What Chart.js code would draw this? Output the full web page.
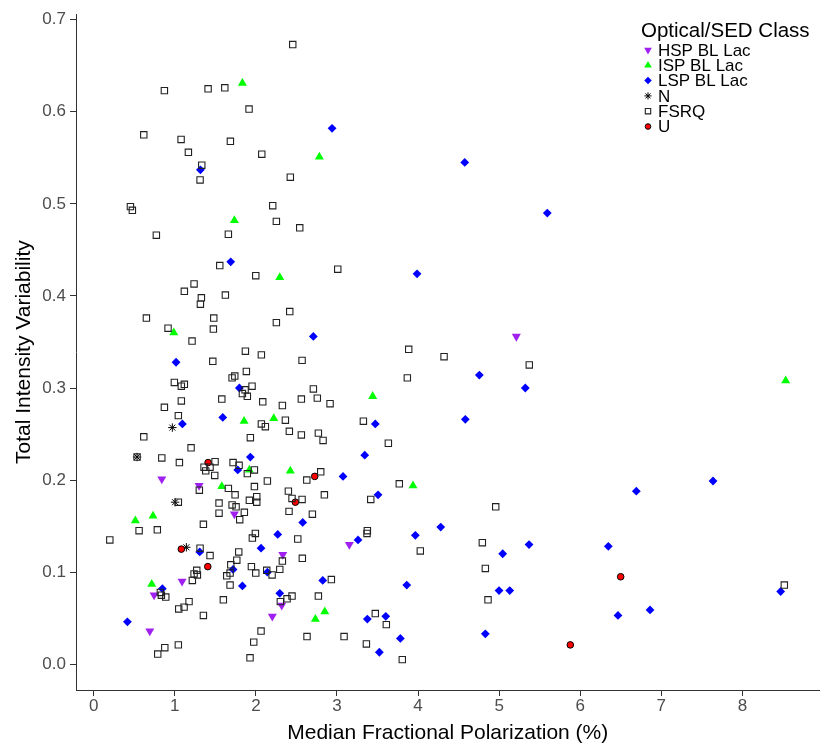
<!DOCTYPE html>
<html>
<head>
<meta charset="utf-8">
<script src="https://cdn.jsdelivr.net/npm/chart.js@4"></script>
<style>
  html, body { margin: 0; padding: 0; background: #fff; }
  #wrap { width: 830px; height: 755px; }
</style>
</head>
<body>
<div id="wrap"><canvas id="myChart" width="830" height="755"></canvas></div>
<script>
// values
const hspX = [0.840, 1.300, 1.735, 5.212, 1.090, 0.745, 0.692, 3.153, 2.332, 2.203, 2.319];
const hspY = [0.201, 0.194, 0.163, 0.356, 0.090, 0.075, 0.036, 0.130, 0.119, 0.052, 0.064];

const ispX = [1.834, 2.783, 1.735, 2.295, 0.988, 1.855, 1.920, 1.580, 0.514, 0.732, 3.441, 2.221, 2.425, 3.938, 0.716, 2.850, 2.734, 8.534];
const ispY = [0.631, 0.551, 0.482, 0.420, 0.360, 0.264, 0.211, 0.193, 0.156, 0.161, 0.291, 0.267, 0.210, 0.194, 0.087, 0.057, 0.049, 0.308];

const lspX = [1.316, 2.940, 1.690, 3.988, 2.709, 1.016, 1.797, 1.592, 1.094, 1.932,
              1.777, 3.473, 3.343, 3.075, 3.507, 2.578, 1.308, 1.719, 1.834, 0.847,
              0.416, 2.270, 2.064, 3.260, 3.967, 2.142, 2.825, 3.861, 2.295, 3.375,
              3.602, 3.782, 3.523, 4.576, 5.594, 4.756, 5.323, 4.583, 7.638, 6.692,
              4.280, 5.369, 5.044, 6.347, 8.472, 4.999, 5.131, 6.466, 6.861, 4.830];
const lspY = [0.537, 0.582, 0.437, 0.424, 0.356, 0.328, 0.300, 0.268, 0.261, 0.225,
              0.211, 0.261, 0.227, 0.204, 0.184, 0.154, 0.122, 0.103, 0.085, 0.082,
              0.046, 0.141, 0.126, 0.135, 0.140, 0.100, 0.091, 0.086, 0.077, 0.049,
              0.052, 0.028, 0.013, 0.545, 0.490, 0.314, 0.300, 0.266, 0.199, 0.188,
              0.149, 0.130, 0.120, 0.128, 0.079, 0.080, 0.080, 0.053, 0.059, 0.033];

const nX = [0.970, 0.535, 1.004, 1.143];
const nY = [0.257, 0.225, 0.176, 0.127];

const fsrqX = [0.872, 1.411, 1.617, 1.916, 0.618, 1.078, 1.686, 1.168, 1.333, 1.312,
               2.455, 2.073, 2.425, 0.453, 0.477, 0.773, 1.661, 1.555, 1.999, 1.238,
               1.118, 1.328, 1.624, 1.316, 0.650, 1.481, 0.917, 1.476, 1.213, 1.871,
               2.208, 2.253, 2.541, 3.010, 2.418, 2.253, 3.885, 2.068, 1.469, 1.883,
               1.707, 1.740, 0.995, 1.081, 1.118, 1.867, 1.953, 1.834, 1.895, 1.081,
               1.580, 0.872, 1.044, 0.618, 1.932, 1.201, 0.535, 0.840, 1.057, 1.497,
               1.719, 1.793, 1.361, 1.435, 1.382, 1.982, 1.895, 1.493, 1.303, 1.661,
               1.982, 1.744, 2.011, 1.920, 2.011, 1.044, 1.546, 1.707, 1.756, 1.546,
               1.858, 1.801, 1.353, 0.560, 0.785, 2.570, 3.868, 2.709, 2.085, 2.561,
               2.758, 2.915, 2.327, 2.364, 3.326, 2.068, 2.117, 2.413, 2.561, 2.771,
               2.829, 3.634, 2.800, 2.628, 2.142, 3.769, 2.401, 2.845, 3.417, 2.446,
               2.570, 2.409, 2.697, 3.375, 0.199, 1.312, 1.435, 1.789, 1.765, 1.957,
               1.994, 1.691, 1.271, 1.238, 1.279, 1.682, 1.641, 1.945, 1.999, 1.217,
               1.682, 0.822, 0.835, 0.889, 1.599, 1.176, 1.115, 1.049, 1.353, 1.044,
               0.877, 0.790, 1.974, 1.928, 2.064, 2.517, 3.371, 4.028, 2.327, 2.573,
               2.134, 2.200, 2.295, 2.931, 2.302, 2.385, 2.446, 2.771, 3.473, 3.609,
               2.631, 3.088, 3.363, 3.806, 4.321, 5.372, 4.958, 4.793, 4.830, 4.863,
               8.517];
const fsrqY = [0.623, 0.625, 0.626, 0.603, 0.575, 0.570, 0.568, 0.556, 0.542, 0.526,
               0.673, 0.554, 0.529, 0.497, 0.493, 0.466, 0.467, 0.433, 0.422, 0.413,
               0.405, 0.398, 0.401, 0.391, 0.376, 0.376, 0.365, 0.364, 0.351, 0.340,
               0.498, 0.481, 0.474, 0.429, 0.383, 0.371, 0.342, 0.336, 0.329, 0.318,
               0.311, 0.313, 0.306, 0.302, 0.304, 0.298, 0.302, 0.294, 0.291, 0.286,
               0.288, 0.279, 0.270, 0.247, 0.246, 0.235, 0.225, 0.224, 0.219, 0.220,
               0.219, 0.216, 0.214, 0.214, 0.210, 0.211, 0.207, 0.205, 0.189, 0.191,
               0.193, 0.184, 0.182, 0.178, 0.176, 0.176, 0.175, 0.173, 0.171, 0.164,
               0.165, 0.157, 0.152, 0.145, 0.146, 0.330, 0.311, 0.299, 0.285, 0.288,
               0.289, 0.283, 0.281, 0.265, 0.264, 0.261, 0.258, 0.253, 0.249, 0.251,
               0.243, 0.240, 0.209, 0.200, 0.199, 0.196, 0.188, 0.184, 0.179, 0.180,
               0.179, 0.166, 0.163, 0.145, 0.135, 0.126, 0.118, 0.122, 0.113, 0.137,
               0.142, 0.108, 0.102, 0.098, 0.097, 0.099, 0.096, 0.106, 0.099, 0.091,
               0.086, 0.078, 0.075, 0.073, 0.070, 0.068, 0.062, 0.060, 0.053, 0.021,
               0.018, 0.011, 0.024, 0.007, 0.036, 0.136, 0.142, 0.123, 0.112, 0.115,
               0.102, 0.097, 0.103, 0.092, 0.068, 0.071, 0.074, 0.074, 0.055, 0.043,
               0.030, 0.030, 0.022, 0.005, 0.334, 0.325, 0.171, 0.132, 0.104, 0.070,
               0.086];

const uX = [1.411, 2.726, 2.487, 1.081, 1.407, 6.499, 5.878];
const uY = [0.219, 0.204, 0.176, 0.125, 0.106, 0.095, 0.021];

const xTicks = [0, 1, 2, 3, 4, 5, 6, 7, 8];
const yTicks = [0, 0.1, 0.2, 0.3, 0.4, 0.5, 0.6, 0.7];

const FONT = '"Liberation Sans", Arial, Helvetica, sans-serif';

function pts(xs, ys) {
    return xs.map((x, i) => ({ x: x, y: ys[i] }));
}

const datasets = [
    { label: 'HSP BL Lac', data: pts(hspX, hspY), pointStyle: 'triangle', pointRotation: 180,
      pointRadius: 5.2, pointBackgroundColor: '#A020F0', pointBorderColor: '#A020F0', pointBorderWidth: 0, order: 3 },
    { label: 'ISP BL Lac', data: pts(ispX, ispY), pointStyle: 'triangle', pointRotation: 0,
      pointRadius: 5.2, pointBackgroundColor: '#00FF00', pointBorderColor: '#00FF00', pointBorderWidth: 0, order: 4 },
    { label: 'LSP BL Lac', data: pts(lspX, lspY), pointStyle: 'rectRot', pointRotation: 0,
      pointRadius: 4.4, pointBackgroundColor: '#0000FF', pointBorderColor: '#0000FF', pointBorderWidth: 0, order: 5 },
    { label: 'N', data: pts(nX, nY), pointStyle: 'star', pointRotation: 0,
      pointRadius: 4.2, pointBackgroundColor: '#000', pointBorderColor: '#000', pointBorderWidth: 1, order: 2 },
    { label: 'FSRQ', data: pts(fsrqX, fsrqY), pointStyle: 'rect', pointRotation: 0,
      pointRadius: 4.5, pointBackgroundColor: 'rgba(0,0,0,0)', pointBorderColor: '#222', pointBorderWidth: 1.1, order: 0 },
    { label: 'U', data: pts(uX, uY), pointStyle: 'circle', pointRotation: 0,
      pointRadius: 3.3, pointBackgroundColor: '#FF0000', pointBorderColor: '#000', pointBorderWidth: 1, order: 1 }
];

// legend box drawn inside the plot, like the original
const sedLegend = {
    id: 'sedLegend',
    afterDraw(chart) {
        const ctx = chart.ctx;
        ctx.save();
        ctx.textAlign = 'left';
        ctx.textBaseline = 'middle';
        ctx.fillStyle = '#000';
        ctx.font = '20.5px ' + FONT;
        ctx.fillText('Optical/SED Class', 641, 31);
        ctx.font = '17px ' + FONT;
        chart.data.datasets.forEach(function (ds, i) {
            const y = 50 + i * 15.3;
            ctx.fillStyle = ds.pointBackgroundColor;
            ctx.strokeStyle = ds.pointBorderColor;
            ctx.lineWidth = ds.pointBorderWidth;
            Chart.helpers.drawPoint(ctx, {
                pointStyle: ds.pointStyle,
                rotation: ds.pointRotation,
                radius: ds.pointRadius * 0.85,
                borderWidth: ds.pointBorderWidth
            }, 648, y);
            ctx.fillStyle = '#000';
            ctx.fillText(ds.label, 658, y + 1);
        });
        ctx.restore();
    }
};

const config = {
    type: 'scatter',
    data: { datasets: datasets },
    options: {
        responsive: false,
        animation: false,
        layout: { padding: { left: 0, right: 10.5, top: 10.5, bottom: 0 } },
        plugins: {
            legend: { display: false },
            tooltip: { enabled: false }
        },
        scales: {
            x: {
                type: 'linear',
                min: -0.218,
                max: 8.951,
                afterBuildTicks: function (s) { s.ticks = xTicks.map(v => ({ value: v })); },
                afterFit: function (s) { s.height = 65; },
                grid: { display: true, drawOnChartArea: false, drawTicks: true, tickLength: 6, color: '#333', lineWidth: 1 },
                border: { display: true, color: '#333', width: 1 },
                ticks: { color: '#4d4d4d', padding: 0, maxRotation: 0, font: { size: 17, family: FONT },
                         callback: v => String(v) },
                title: { display: true, text: 'Median Fractional Polarization (%)', color: '#000',
                         font: { size: 21, family: FONT }, padding: { top: 0, bottom: 9 } }
            },
            y: {
                type: 'linear',
                min: -0.028,
                max: 0.706,
                afterBuildTicks: function (s) { s.ticks = yTicks.map(v => ({ value: v })); },
                afterFit: function (s) { s.width = 76; },
                grid: { display: true, drawOnChartArea: false, drawTicks: true, tickLength: 6, color: '#333', lineWidth: 1 },
                border: { display: true, color: '#333', width: 1 },
                ticks: { color: '#4d4d4d', padding: 4, font: { size: 17, family: FONT },
                         callback: v => v.toFixed(1) },
                title: { display: true, text: 'Total Intensity Variability', color: '#000',
                         font: { size: 21, family: FONT }, padding: { top: 12, bottom: 0 } }
            }
        }
    },
    plugins: [sedLegend]
};

const myChart = new Chart(document.getElementById('myChart'), config);
</script>
</body>
</html>
